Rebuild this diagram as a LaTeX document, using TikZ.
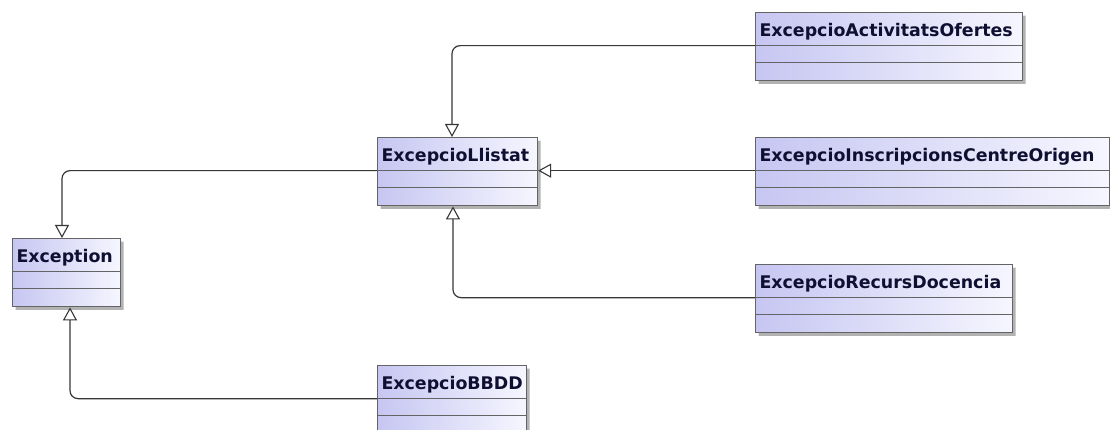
\documentclass[tikz,border=0pt]{standalone}
\usepackage{fontspec}
\setsansfont{DejaVu Sans}
\usetikzlibrary{shapes.multipart,arrows.meta,shadows}
\definecolor{boxborder}{RGB}{100,100,100}
\definecolor{boxleft}{RGB}{198,198,242}
\definecolor{boxright}{RGB}{246,246,255}
\definecolor{titletext}{RGB}{15,15,50}
\definecolor{linecol}{RGB}{55,55,55}
\tikzset{
  classbox/.style={rectangle split, rectangle split parts=3, draw=boxborder,
    line width=1.1pt, left color=boxleft, right color=boxright,
    inner xsep=4pt, inner ysep=0pt, anchor=north west, align=left,
    font=\sffamily\bfseries\fontsize{17.4}{20}\selectfont, text=titletext,
    drop shadow={shadow xshift=3pt,shadow yshift=-3pt,fill=black!60,opacity=0.5}},
  gen/.style={draw=linecol, line width=1.2pt, rounded corners=8pt,
    -{Triangle[open,length=13pt,width=14pt,line width=1.1pt]}},
}
\begin{document}
\begin{tikzpicture}[x=1pt,y=-1pt]
\useasboundingbox[fill=white] (0,0) rectangle (1110,430);
\node[classbox, text width=259pt] (act) at (755,12)
  {\rule[-9pt]{0pt}{32pt}ExcepcioActivitatsOfertes\nodepart{two}\rule[-8pt]{0pt}{16pt}\nodepart{three}\rule[-8pt]{0pt}{17pt}};
\node[classbox, text width=346pt] (ins) at (755,137)
  {\rule[-9pt]{0pt}{32pt}ExcepcioInscripcionsCentreOrigen\nodepart{two}\rule[-8pt]{0pt}{16pt}\nodepart{three}\rule[-8pt]{0pt}{17pt}};
\node[classbox, text width=152pt] (llistat) at (377,137)
  {\rule[-9pt]{0pt}{32pt}ExcepcioLlistat\nodepart{two}\rule[-8pt]{0pt}{16pt}\nodepart{three}\rule[-8pt]{0pt}{17pt}};
\node[classbox, text width=100pt] (exception) at (12,238)
  {\rule[-9pt]{0pt}{32pt}Exception\nodepart{two}\rule[-8pt]{0pt}{16pt}\nodepart{three}\rule[-8pt]{0pt}{17pt}};
\node[classbox, text width=249pt] (recurs) at (755,264)
  {\rule[-9pt]{0pt}{32pt}ExcepcioRecursDocencia\nodepart{two}\rule[-8pt]{0pt}{16pt}\nodepart{three}\rule[-8pt]{0pt}{17pt}};
\node[classbox, text width=141pt] (bbdd) at (377,365)
  {\rule[-9pt]{0pt}{32pt}ExcepcioBBDD\nodepart{two}\rule[-8pt]{0pt}{16pt}\nodepart{three}\rule[-8pt]{0pt}{17pt}};
\draw[gen] (act.text split west) -| ([xshift=75pt]llistat.north west);
\draw[gen] (ins.text split west) -- (llistat.text split east);
\draw[gen] (recurs.text split west) -| ([xshift=76pt]llistat.south west);
\draw[gen] (llistat.text split west) -| ([xshift=50pt]exception.north west);
\draw[gen] (bbdd.text split west) -| ([xshift=58pt]exception.south west);
\end{tikzpicture}
\end{document}
